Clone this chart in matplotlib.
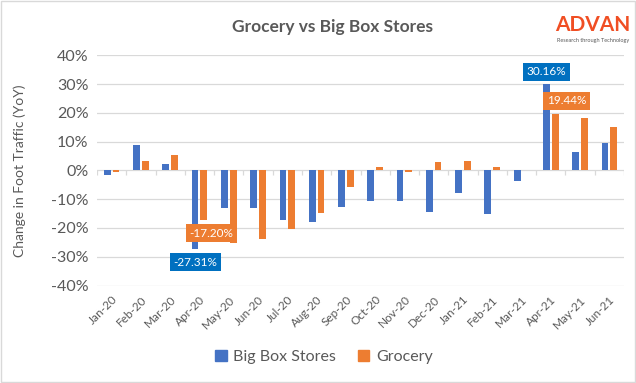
import matplotlib
matplotlib.use("Agg")
import matplotlib.pyplot as plt
from matplotlib.patches import Rectangle, Patch
import numpy as np

plt.rcParams['font.family'] = ['Lato', 'DejaVu Sans']

months = ["Jan-20", "Feb-20", "Mar-20", "Apr-20", "May-20", "Jun-20", "Jul-20", "Aug-20",
          "Sep-20", "Oct-20", "Nov-20", "Dec-20", "Jan-21", "Feb-21", "Mar-21", "Apr-21",
          "May-21", "Jun-21"]
big_box = [-1.6, 8.8, 2.2, -27.31, -12.9, -12.9, -17.2, -17.9, -12.6, -10.6, -10.6, -14.4,
           -7.8, -15.1, -3.6, 30.16, 6.3, 9.6]
grocery = [-0.4, 3.2, 5.3, -17.20, -25.4, -23.8, -20.3, -14.8, -5.8, 1.2, -0.4, 3.0,
           3.3, 1.2, 0.0, 19.44, 18.2, 15.1]
yticks = [-40, -30, -20, -10, 0, 10, 20, 30, 40]

BLUE = "#4472C4"
ORANGE = "#ED7D31"
GRAY = "#595959"
GRID = "#D9D9D9"

fig = plt.figure(figsize=(6.36, 3.83), dpi=100)
ax = fig.add_axes([97/636, 1-285.5/383, (624-97)/636, (285.5-55.3)/383])

x = np.arange(len(months))
off = 0.15
w = 0.23
bb = ax.bar(x - off, big_box, width=w, color=BLUE, zorder=3)
gr = ax.bar(x + off, grocery, width=w, color=ORANGE, zorder=3)

ax.set_xlim(-0.5, len(months) - 0.5)
ax.set_ylim(-40, 40)
for yv in yticks:
    ax.axhline(yv, color=GRID, lw=0.9, zorder=1)
# category boundary tick marks on the zero line
bounds = np.arange(len(months) + 1) - 0.5
ax.vlines(bounds, -1.6, 0, color=GRID, lw=0.9, zorder=1)

ax.set_yticks(yticks)
ax.set_yticklabels([f"{v}%" for v in yticks], fontsize=11.5, color=GRAY)
ax.set_xticks(x)
ax.set_xticklabels(months, rotation=45, ha='right', rotation_mode='anchor',
                   fontsize=8.5, color=GRAY)
ax.tick_params(axis='both', length=0)
ax.tick_params(axis='x', pad=6)
ax.tick_params(axis='y', pad=6)
for s in ax.spines.values():
    s.set_visible(False)

ax.set_ylabel("Change in Foot Traffic (YoY)", fontsize=10, color=GRAY, labelpad=6)
ax.yaxis.set_label_coords(-0.135, 0.5)

def tag(xv, yv, txt, color, dx, dy):
    ax.annotate(txt, xy=(xv, yv), xytext=(dx, dy), textcoords='offset points',
                ha='center', va='center', fontsize=8.5, color='white', zorder=5,
                bbox=dict(boxstyle='square,pad=0.3', fc=color, ec='none'))

tag(15 - off, big_box[15], f"{big_box[15]:.2f}%", "#0070C0", 0, 8.5)
tag(15 + off, grocery[15], f"{grocery[15]:.2f}%", ORANGE, 8, 10)
tag(3 + off, grocery[3], f"{grocery[3]:.2f}%", ORANGE, 5.4, -9.7)
tag(3 - off, big_box[3], f"{big_box[3]:.2f}%", "#0070C0", 0, -9.6)

fig.text(332/636, 1-27/383, "Grocery vs Big Box Stores", ha='center', va='center',
         fontsize=12.5, fontweight='bold', color=GRAY)
fig.text(593/636, 1-25/383, "ADVAN", ha='center', va='center', fontsize=15,
         color="#F04E23", fontweight='bold')
fig.text(593/636, 1-40.5/383, "Research through Technology", ha='center', va='center',
         fontsize=4, color=GRAY)

handles = [Patch(color=BLUE), Patch(color=ORANGE)]
fig.legend(handles, ["Big Box Stores", "Grocery"], loc='center', bbox_to_anchor=(324/636, 1-357/383),
           ncol=2, frameon=False, fontsize=11.5, labelcolor=GRAY, handlelength=0.7,
           handleheight=0.7, handletextpad=0.4, columnspacing=1.4)

fig.add_artist(Rectangle((0.001, 0.002), 0.997, 0.996, transform=fig.transFigure,
                         fill=False, ec=GRID, lw=1))

fig.savefig("out.png", dpi=100, facecolor='white')
